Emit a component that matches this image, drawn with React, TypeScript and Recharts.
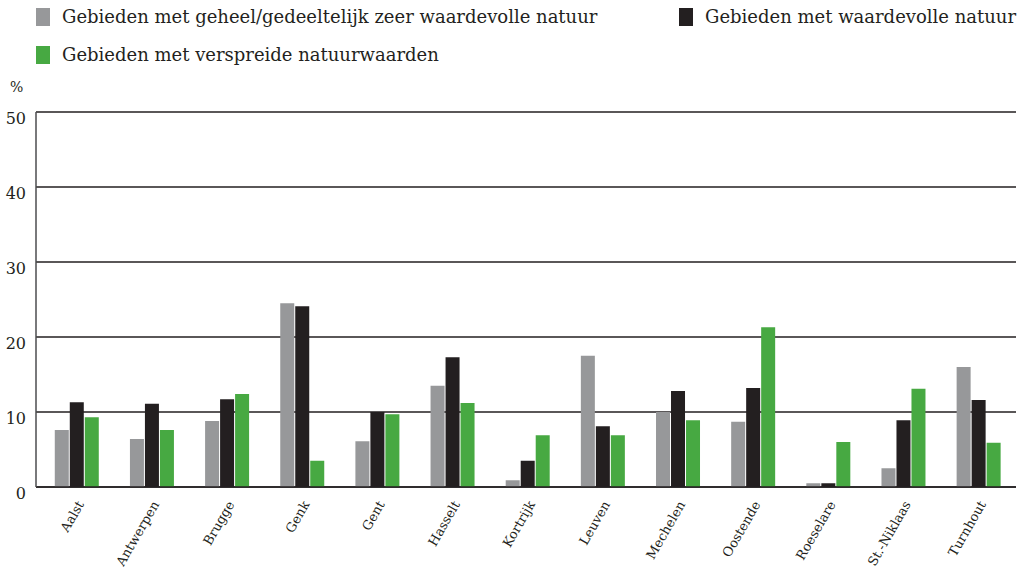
import React from "react";
import { BarChart, Bar, XAxis, YAxis, CartesianGrid } from "recharts";

const categories = ["Aalst", "Antwerpen", "Brugge", "Genk", "Gent", "Hasselt", "Kortrijk", "Leuven", "Mechelen", "Oostende", "Roeselare", "St.-Niklaas", "Turnhout"];
const zeerWaardevol = [7.6, 6.4, 8.8, 24.5, 6.1, 13.5, 0.9, 17.5, 10.0, 8.7, 0.5, 2.5, 16.0];
const waardevol = [11.3, 11.1, 11.7, 24.1, 10.0, 17.3, 3.5, 8.1, 12.8, 13.2, 0.5, 8.9, 11.6];
const verspreid = [9.3, 7.6, 12.4, 3.5, 9.7, 11.2, 6.9, 6.9, 8.9, 21.3, 6.0, 13.1, 5.9];
const seriesNames = [
  "Gebieden met geheel/gedeeltelijk zeer waardevolle natuur",
  "Gebieden met waardevolle natuur",
  "Gebieden met verspreide natuurwaarden",
];
const yTicks = [0, 10, 20, 30, 40, 50];

const COLORS = ["#97989a", "#231f20", "#47a942"];
const FONT = "'DejaVu Serif', serif";

const data = categories.map((c, i) => ({
  name: c,
  a: zeerWaardevol[i],
  b: waardevol[i],
  c: verspreid[i],
}));

const XTick = (props: any) => {
  const { x, y, payload } = props;
  return (
    <g transform={`translate(${x + 4},${y + 7})`}>
      <text transform="rotate(-60)" textAnchor="end" dominantBaseline="central" style={{ fontFamily: FONT }} fontSize={13} fill="#231f20">
        {payload.value}
      </text>
    </g>
  );
};

const YTick = (props: any) => {
  const { y, payload } = props;
  return (
    <text x={26} y={y + 6} textAnchor="end" dominantBaseline="central" style={{ fontFamily: FONT }} fontSize={16} fill="#231f20">
      {payload.value}
    </text>
  );
};

const legendPos = [
  { x: 36, y: 8 },
  { x: 679, y: 8 },
  { x: 36, y: 46 },
];

export default function App() {
  return (
    <div style={{ position: "absolute", left: 0, top: 0, width: 1020, height: 572, background: "#fff", fontFamily: FONT }}>
      <BarChart
        width={1020}
        height={572}
        data={data}
        margin={{ top: 112, right: 4, bottom: 0, left: 8 }}
        barCategoryGap="21%"
        barGap={1}
        style={{ fontFamily: FONT }}
      >
        <CartesianGrid vertical={false} stroke="#231f20" strokeWidth={1.5} strokeOpacity={1} />
        <XAxis
          dataKey="name"
          interval={0}
          tick={<XTick />}
          tickLine={false}
          axisLine={{ stroke: "#231f20", strokeWidth: 1.5 }}
          padding={{ left: 3, right: 0 }}
          height={85}
        />
        <YAxis
          domain={[0, 50]}
          ticks={yTicks}
          width={28}
          tick={<YTick />}
          tickLine={false}
          axisLine={{ stroke: "#4d4d4f", strokeWidth: 1.5 }}
        />
        <Bar dataKey="a" name={seriesNames[0]} fill={COLORS[0]} isAnimationActive={false} />
        <Bar dataKey="b" name={seriesNames[1]} fill={COLORS[1]} isAnimationActive={false} />
        <Bar dataKey="c" name={seriesNames[2]} fill={COLORS[2]} isAnimationActive={false} />
      </BarChart>
      {legendPos.map((p, i) => (
        <div key={i} style={{ position: "absolute", left: p.x, top: p.y, display: "flex", alignItems: "center", height: 18 }}>
          <div style={{ width: 14, height: 18, background: COLORS[i], marginRight: 12, flex: "none" }} />
          <span style={{ fontFamily: FONT, fontSize: 18, lineHeight: "18px", color: "#231f20", whiteSpace: "nowrap" }}>{seriesNames[i]}</span>
        </div>
      ))}
      <div style={{ position: "absolute", left: 10, top: 79, fontFamily: FONT, fontSize: 14, color: "#231f20" }}>%</div>
    </div>
  );
}
